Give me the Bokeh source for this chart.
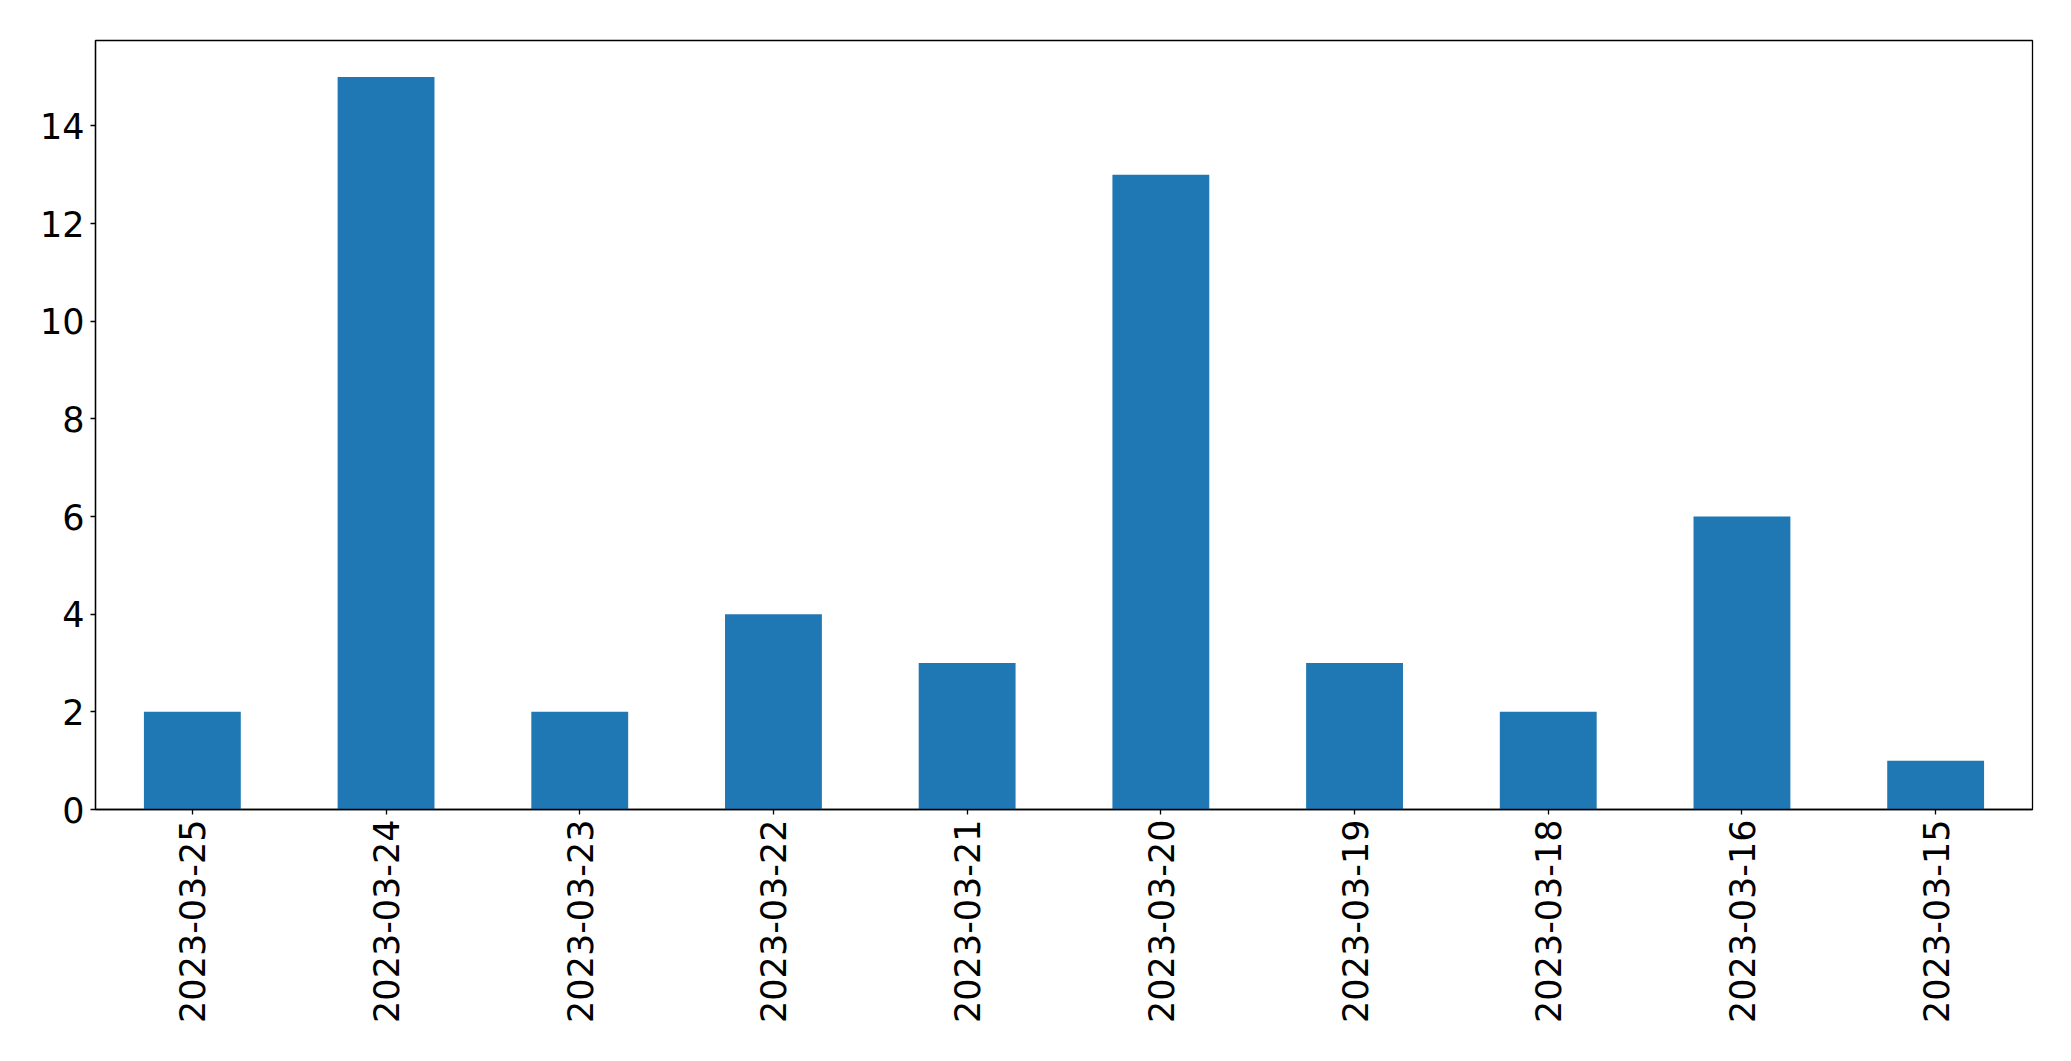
import math
from bokeh.plotting import figure
from bokeh.models import ColumnDataSource, FixedTicker, Range1d, FactorRange
from bokeh.embed import file_html
from bokeh.resources import INLINE

dates = ["2023-03-25", "2023-03-24", "2023-03-23", "2023-03-22", "2023-03-21",
         "2023-03-20", "2023-03-19", "2023-03-18", "2023-03-16", "2023-03-15"]
counts = [2, 15, 2, 4, 3, 13, 3, 2, 6, 1]
y_ticks = [0, 2, 4, 6, 8, 10, 12, 14]

src = ColumnDataSource(dict(date=dates, count=counts))

p = figure(x_range=FactorRange(factors=dates, range_padding=0),
           y_range=Range1d(0, 15.75),
           width=2055, height=1045,
           output_backend="svg", toolbar_location=None,
           min_border_left=95, min_border_right=23, min_border_top=40, min_border_bottom=236)

p.vbar(x="date", top="count", width=0.5, source=src, color="#1f77b4", line_color=None)

p.xgrid.visible = False
p.ygrid.visible = False
p.outline_line_color = "black"
p.outline_line_width = 1.3
p.outline_line_alpha = 1.0
p.background_fill_color = "white"
p.border_fill_color = "white"

p.yaxis.ticker = FixedTicker(ticks=y_ticks)
p.yaxis.minor_tick_line_color = None

for ax in (p.xaxis[0], p.yaxis[0]):
    ax.axis_line_color = "black"
    ax.axis_line_width = 1.3
    ax.major_tick_line_color = "black"
    ax.major_tick_line_width = 1.3
    ax.major_tick_out = 5
    ax.major_tick_in = 0
    ax.major_label_text_font = "DejaVu Sans"
    ax.major_label_text_font_size = "35px"
    ax.major_label_text_color = "black"

p.yaxis.major_label_standoff = 6
p.xaxis.major_label_standoff = 5
p.xaxis.major_label_orientation = math.pi / 2

open("out.html", "w").write(file_html(p, INLINE))
